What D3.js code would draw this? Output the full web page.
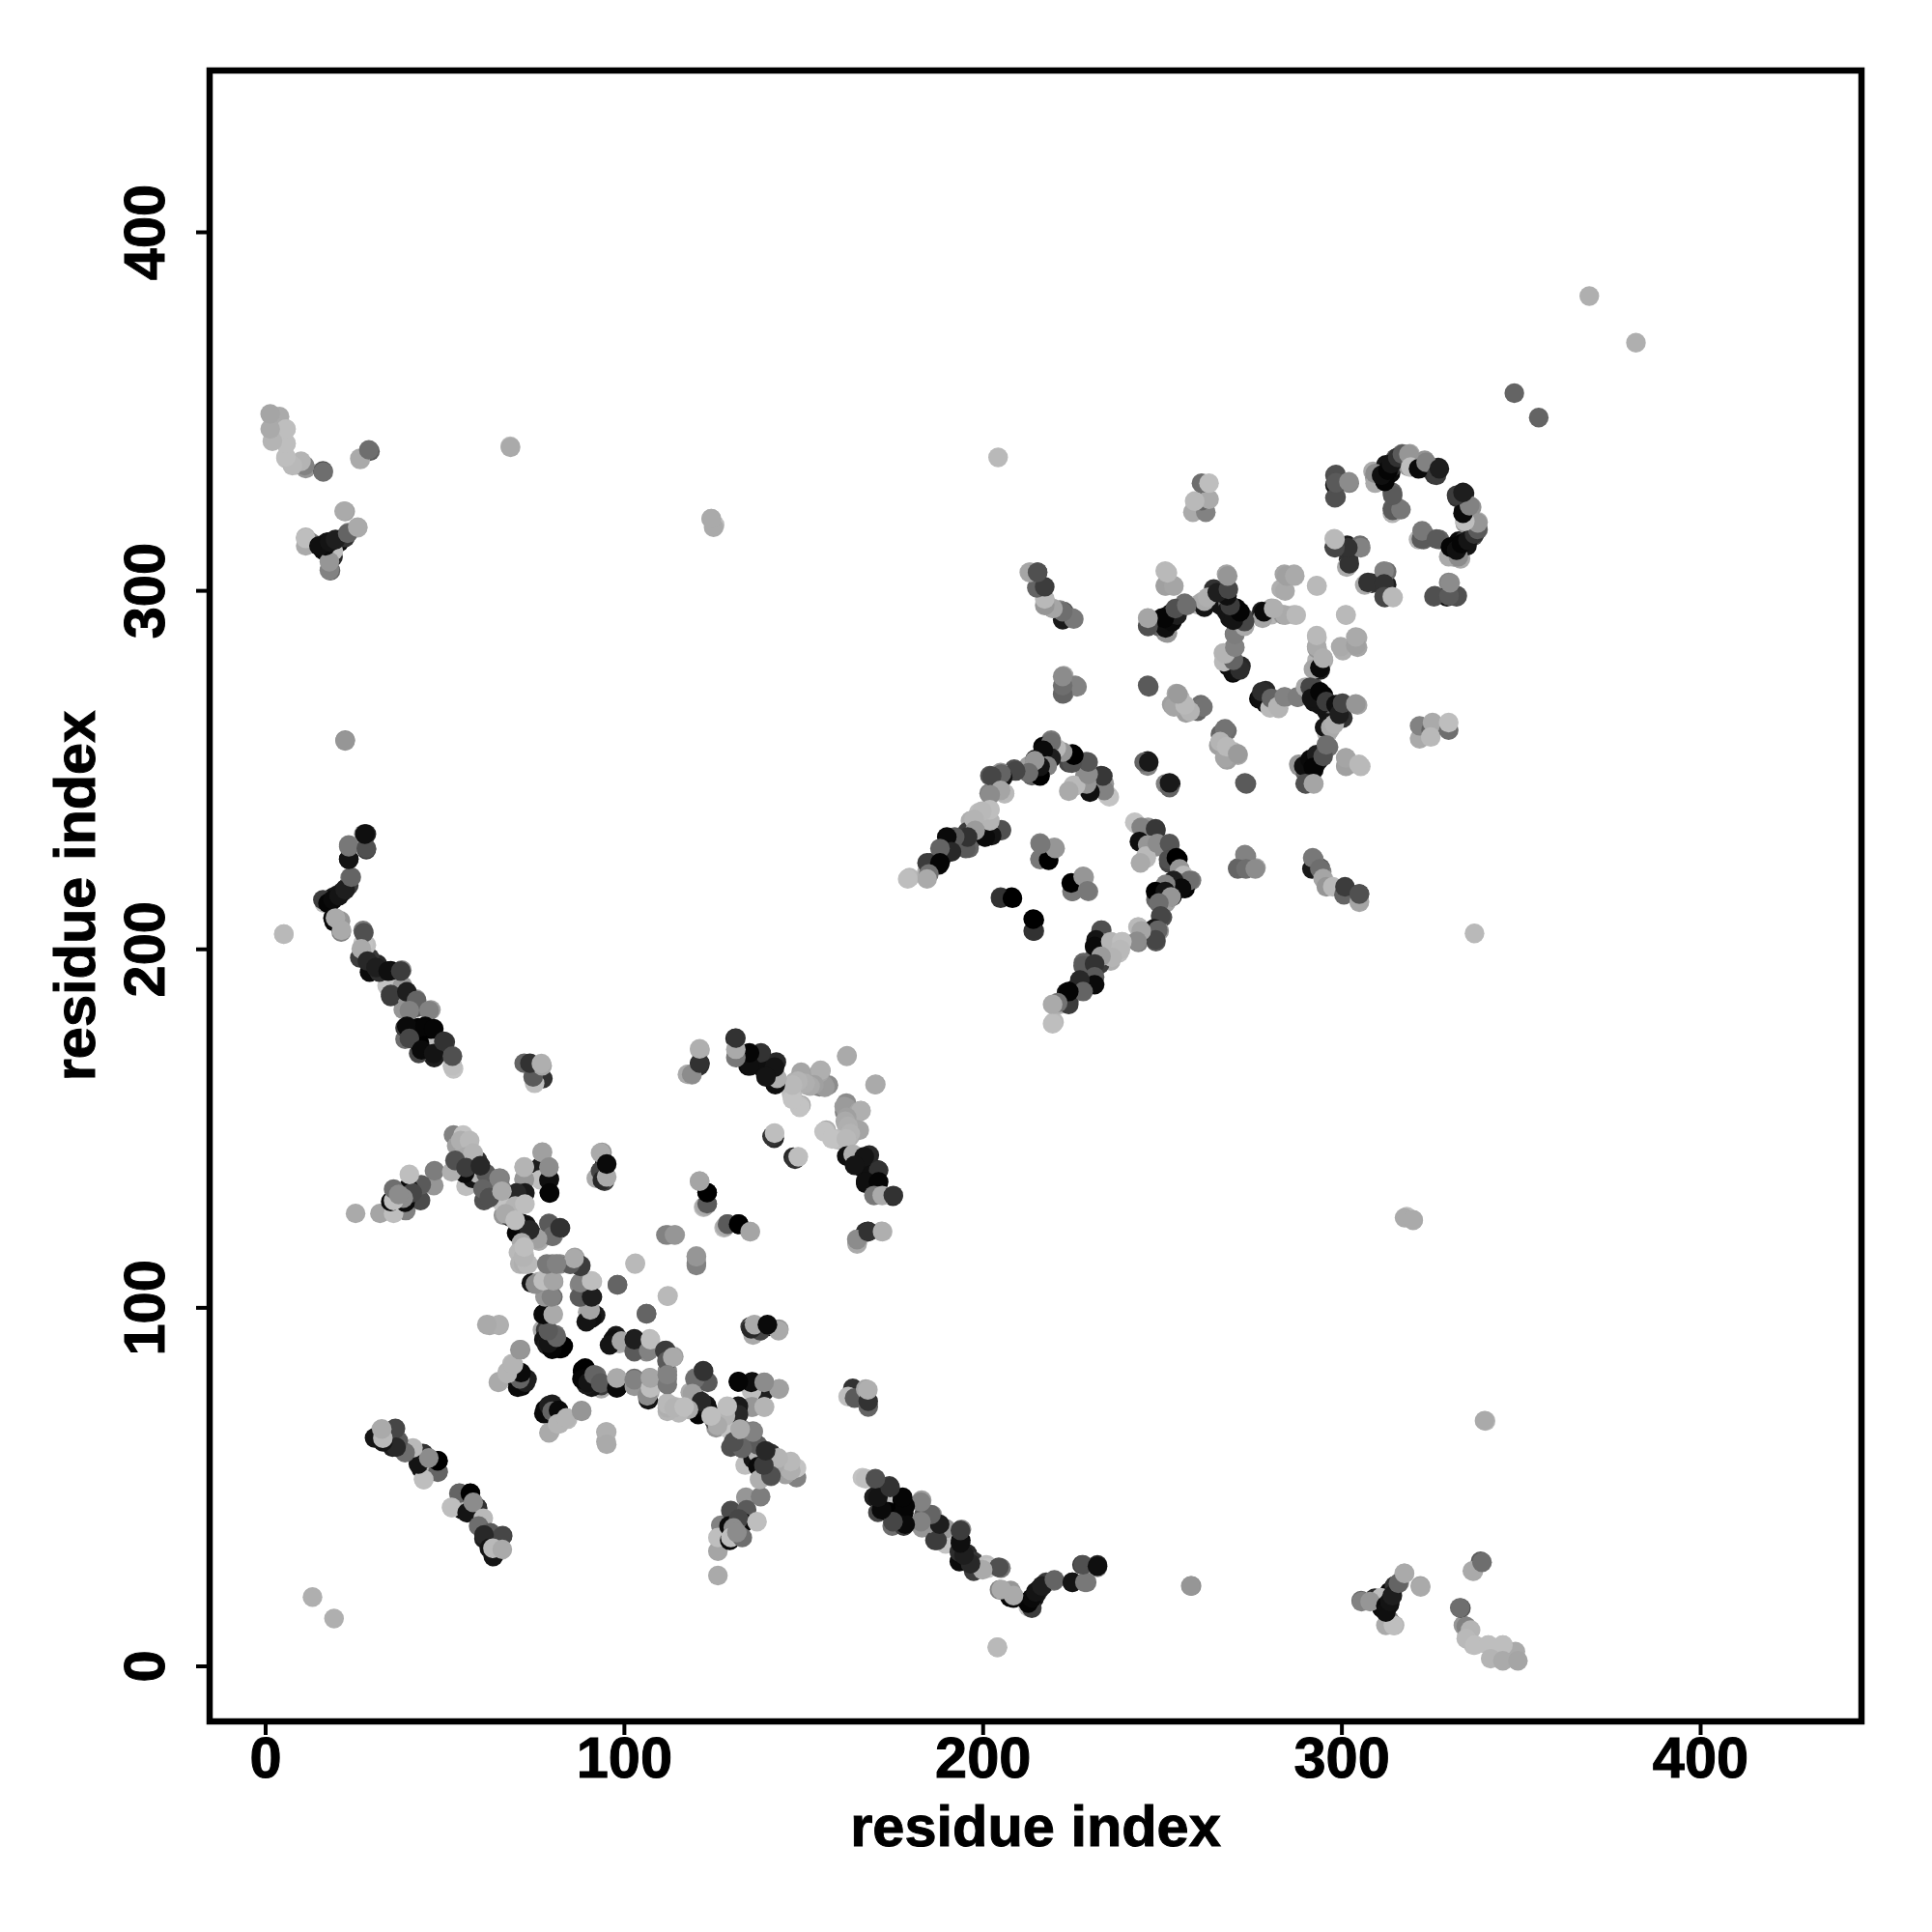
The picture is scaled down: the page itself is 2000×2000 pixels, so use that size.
<!DOCTYPE html>
<html><head><meta charset="utf-8">
<script src="https://cdnjs.cloudflare.com/ajax/libs/d3/7.8.5/d3.min.js"></script>
<style>html,body{margin:0;background:#fff}svg{display:block}</style></head>
<body><script>
// contacts are [residue a, residue b, grey level]; the map is symmetric, so each is drawn at (a,b) and (b,a)
const axisTicks = [0,100,200,300,400];
const axisTitle = "residue index";
const lonePairs = [[13.2,19.2,175],[369.1,382.1,175],[348.2,355,100],[68.3,340.2,190],[124.3,320,175],[125.3,318.2,190],[204.3,337.1,185],[317.6,125,170],[320,124.4,170],[339.9,68.4,170],[258.2,22.3,130],[5.2,204.1,190],[22.3,258,150],[204.1,5.2,185]];
const sheetA = [[32.3,65.9,176],[32.3,63.2,185],[30.5,63.6,20],[36.3,66.2,70],[36.7,62.7,90],[35.5,61,30],[38.5,60.5,10],[40.8,60.5,185],[44.2,59.1,50],[44.4,56.9,100],[43.5,55,20],[48.2,54.2,90],[46.5,57,190],[48.2,57.2,0],[44.2,52,190],[54,48.1,100],[57.2,48.1,0],[59.2,44,50],[52,44.2,190],[56.3,42.7,20],[58,45.6,140],[60.8,41.2,185],[59.5,39,110],[62.8,37.1,90],[66.1,36.2,70],[61,36.5,40],[62.5,32.8,20],[63.5,32.8,185],[66.1,32.5,170]];
const hairpinB = [[126.2,25.2,170],[126.2,32,165],[127,39.2,130],[126.2,35.8,190],[129.8,43.3,75],[134,47,150],[138.1,47.2,125],[134.2,43.5,90],[129.3,39,10],[133.3,39.9,10],[132,41,70],[137.1,40.2,190],[130.5,38.5,140],[129.5,35,10],[129.8,35.8,190],[133,35.8,110],[131.5,37.2,140]];
const bandC = [[122.1,82.3,50],[119.9,80.3,130],[123,79.4,80],[132,79.2,0],[135.8,79.2,5],[139.2,79,130],[139.2,76.7,30],[143.2,77.2,165],[135.6,76.7,190],[132,70.4,30],[132,72.2,25],[135.9,72.2,150],[139.2,72.2,190],[118.5,76.3,170],[119,72.7,0],[120.3,74.5,60],[123,72.7,20],[121.2,71.3,100],[115.8,71.8,190],[114.5,72.2,190],[123.9,70,180],[125.7,66.4,150],[125.3,68.2,60],[128,70,190],[127,68,175],[129.3,66,195],[132.9,66,125],[136,65.5,125],[129.8,61,80],[133.3,61.4,120],[136.9,61.4,110],[133.8,56,190],[136,57.8,20],[141,59.2,50],[137.4,59.2,180],[137.4,55.6,10],[141,55.2,15],[137.8,52,175],[141,52.9,130],[141.9,56,175],[148.1,52.5,130],[145,53.4,160],[144.6,55.6,170],[148.1,55.2,195]];
const sheetD = [[166.5,52.5,195],[170,52,100],[169.7,47.1,30],[170.8,42.8,70],[174,50.2,60],[174.6,46,190],[173.7,43,0],[174.8,39,110],[178,39,60],[177.6,46.2,0],[178,42.6,5],[183,46.2,160],[183.1,38.5,150],[183.6,42.1,90],[186,42.1,160],[186.7,35,60],[186.7,39.4,150],[189.7,34,195],[189.7,38.3,155],[194.1,38.1,140],[193.5,29.1,10],[193.9,35,5],[193.5,31.8,45],[195.7,31.3,40],[197.5,26.4,60],[197.5,29.1,55],[201.1,28.2,190],[201.5,27.3,195],[205.1,27.3,120],[204.7,21.2,130],[207.6,19.2,5],[207.8,21,150],[212.7,16.5,190],[213.2,18.3,10],[213.7,17.9,15],[214.3,18.8,20],[215,20.1,25],[215.9,21.5,30],[216.8,22.4,40],[217.7,23.3,60],[219.9,23.7,120],[225,23.3,25],[229,23.3,120],[227.7,28.2,50],[232,27.5,140],[232,28.2,40]];
const patchE = [[163.8,77.4,50],[162.5,75.1,190],[164.3,74.7,90],[167.4,77.2,165],[168.1,72.2,100],[168.1,73.8,50],[168,77,175]];
const patchF = [[135.2,167.4,20],[131,175,30],[131.4,171.8,50],[134.6,170.8,10],[134.6,167.4,10],[138.3,170.8,20],[139,166.3,15],[142.5,168.4,40],[142.5,162.9,30],[141.5,164.5,170],[117.7,165,175],[119,164.9,150],[121,167.4,50],[121.2,171.8,175],[121.2,168,40],[141.9,147.2,40],[141.9,148.5,170],[147.7,141.3,50],[148.6,142,190],[170.2,162.2,165],[162.1,170,170]];
const patchG = [[147.6,162.9,175],[149.4,165.6,165],[147,158.8,180],[151,162,180],[154.5,165.6,160],[154.5,161.5,130],[149.4,156.4,170],[149.1,156.2,170],[147,160,190],[155.8,162,130],[154.9,166,160],[157,162,140],[162.1,155.7,155],[161.4,156,155],[165.5,154.6,165],[166.1,154.8,175],[162.1,153,160],[161.7,151.9,170],[162.5,150.5,175],[163.1,148.5,180],[156.2,149.1,190],[155.8,149,195],[159.7,146.7,190],[158,147,195],[162,147,185]];
const strandH = [[162.1,142.2,15],[163.9,142.7,175],[167,142,20],[164.3,139.6,20],[171,138.2,50],[167.5,135,15],[171,135,5],[169.7,131.2,120],[172,131.2,170],[175.1,131.2,50],[165,118,170],[165,118.9,140],[168.1,121.1,50],[172.1,121.1,175]];
const patchI = [[121.1,135.2,180],[122.2,127.9,190],[123.2,128.8,80],[123.2,132,0],[128.2,122.5,170],[128.9,123.2,90],[132,123.2,0],[135.2,121.1,165],[112.3,120.2,130],[114.3,120.2,160],[120.2,111.7,130],[120.2,114.1,150],[103.1,112.1,185],[98.2,106.3,90],[112.3,103.2,185],[106.3,98.2,100],[135.2,94.6,60],[136.1,92.8,170],[136.1,95,180],[138,93.5,100],[139.7,94.6,20],[143.2,93.9,150]];
const sheetJ = [[79.1,123.4,90],[80,119.8,110],[82.2,122.2,50],[75.9,119.1,160],[70.1,120.7,5],[71.5,123.4,15],[73.7,121.6,40],[71.5,118,170],[77.3,143.3,160],[72.2,135.5,150],[72.2,139.1,180],[79.1,135.5,15],[79.3,131.9,5],[79.1,139.1,140],[72.4,131.9,25],[70.1,131.9,40],[92.3,136,170],[93.5,143.1,170],[93.5,138,70],[94,135.5,40],[95.2,136.4,170],[95.2,140,10],[61.6,137.3,90],[65.2,136,130],[60.7,133,100],[62.5,130.6,80],[66,132.4,170],[69.7,128.3,180],[67,126.1,170],[72.4,128.8,190],[69.7,124.3,190],[54.5,146.5,175],[57,146.5,185],[56,142,170],[58,143,180],[53,141,80],[56,139,60],[60,139.5,40]];
const sheetK = [[70.6,115.3,185],[71,112.1,180],[72.4,113.5,185],[73.3,112.1,185],[80,112.1,140],[82.2,112.1,140],[86.3,113.9,160],[85.4,112.1,175],[88,111.7,70],[74.2,106.8,20],[76.4,107.2,170],[78,107,190],[80.4,107.2,150],[78.2,103.2,170],[80.2,102.9,110],[87.6,106.3,140],[91.2,107.2,185],[87.6,102.9,100],[91.2,102.9,15],[90.3,96.9,10],[89.9,98.7,170],[92.1,97.8,25],[77.7,98.2,10],[80.2,98.2,170],[77.3,93.7,170],[78.2,93.7,60],[77.7,91,20],[78.5,89.5,30],[80.9,92.4,110],[80,88.3,0],[82,88.5,0],[83.1,89.2,0],[62.5,95,170],[65.2,95,170],[71.2,88.2,140]];
const sheetL = [[68.8,84.3,185],[65.2,79.3,170],[67.5,82,180],[70.6,82,40],[70,80,15],[71.5,78,5],[72.4,79.8,25],[73,80,30],[77.7,70.4,10],[79.1,72.6,30],[80,71,100],[81.8,71.3,10],[79.1,65,170],[81.5,67.5,180],[84,69.2,180],[88.2,71,150],[95.2,65.2,175],[95.2,61.8,170]];
const sheetM = [[97,91,15],[96,89.5,20],[99.3,90.6,165],[102.9,87.9,90],[102.9,91,30],[106.9,87.9,130],[107.4,91,190],[111.4,87.9,60],[112,85,90],[113.6,86.1,170],[88.5,82.5,0],[88.5,80,5],[90,79,20],[91.7,81.2,100],[93.5,78.9,90],[98,77.5,10],[98,80.3,170],[102.9,78,150],[102.9,79.8,130],[106.5,75.3,140],[107.4,77.5,190],[107.4,80.3,165],[112.1,78.5,120],[112.1,81.2,130],[112.1,72,175],[112.1,73,185],[114,72,180],[116.8,72.2,190]];
const arcN = [[27.5,204.5,80],[26.8,200,170],[28.5,196.6,40],[30.9,194.8,30],[34.3,193.8,15],[37.8,193.8,60],[35,187.3,60],[39.5,188,30],[42.2,185.6,100],[40.2,182.8,130],[45.7,182.8,130],[39.5,178.4,10],[44.6,178.4,5],[47,177.7,5],[40.2,175,70],[43.6,171.8,10],[47,170.8,20],[49.8,174.2,50],[52.2,167.4,190],[52.2,170.1,80]];
const arcO = [[16.1,213.7,60],[17.5,212.7,5],[18.9,213.7,10],[20.6,214.8,20],[22.3,216.5,30],[24,220,100],[23.3,225,20],[23.3,228.5,120],[28.2,228,80],[27.8,232,15],[18.9,208.6,10],[19.6,208.6,170],[21.3,205.2,170]];
const cornerP = [[1.7,345,165],[1.7,348.8,170],[4,348.5,170],[5.8,345,180],[5.8,340.9,185],[5.8,336.8,190],[8.6,335,190],[11.3,334,150],[16.1,333.3,80],[26.4,336.8,170],[29.2,338.8,90],[11.3,314.8,175],[12.7,313.4,130],[18.2,305.5,100],[18.9,309.3,40],[16.1,311.3,10],[17.2,313.4,20],[20.6,313.4,10],[19,311,190],[22.3,314.8,50],[22.3,322,160],[23.3,316.2,170],[25.8,317.5,180]];
const cornerQ = [[305.6,17.9,130],[308,17.9,150],[312.4,11.3,170],[314.5,11.3,190],[312.4,16.8,10],[312.4,15,15],[313.5,18,20],[314.2,19.6,30],[315.9,23,100],[317.6,25.8,170],[322.1,22,170],[333,16.2,110],[334.8,11,130],[336,10,180],[334.8,7.6,185],[337.2,5.8,190],[341,5.8,190],[345,5.8,190],[341.6,2,180],[345,1.4,170],[349.2,1.4,165],[336.5,26.5,170],[339.2,28.9,110]];
const hubR = [[250.9,305.4,185],[250.9,301.3,170],[253.2,301.3,180],[268,304.5,165],[246,290.1,70],[246,292.3,170],[250.9,288.3,150],[249,290,100],[250.9,291,10],[250,292.3,15],[251.4,292.8,15],[252.7,293.7,20],[253.2,292.8,15],[253.6,294.1,130],[256.3,296.4,110],[260,296,175],[261.2,296.8,170],[264.4,300.4,50],[265.3,298.6,40],[268,300.4,80],[266.2,295.9,20],[268.4,296.4,100],[268,294.1,20],[270.7,295,5],[268.9,292.3,20],[272.9,292.3,70],[270.2,287.8,110],[267.1,282.5,180],[268,281,150],[268.4,278.9,15],[269.8,277,10],[270.2,284.3,130],[272,278.9,40]];
const hubS = [[277.8,294.1,30],[280.5,295,170],[279,293,160],[280.5,293.2,180],[283.7,293.2,150],[286.8,293.2,185],[283.2,300.4,175],[284.1,304.5,165],[286.8,304.5,170],[293.1,301.3,185],[298,312.1,60],[298,314.4,185],[301.6,312.6,30],[305.2,312.6,110],[302,307,180],[302,308.5,50],[306.5,301.5,170],[307.4,302.2,50],[311.9,305.4,130],[311.9,301.8,50],[311.9,298.2,70],[314.2,298.2,185],[325.8,298.2,85],[329.9,302.2,130],[329.4,298.2,20],[332.1,298.2,75],[301.2,293.2,185]];
const hubT = [[293.1,284.3,170],[293.1,287.4,185],[292.2,278,165],[294,278.4,10],[294.9,281.1,175],[299.8,284.3,170],[304,284.7,160],[304,287,170],[246,273.5,90],[254,271.2,170],[252.7,268.1,160],[256.7,265.8,160],[255,269.9,185],[256.7,267.6,185],[259.9,266.3,100],[260.8,268.1,110]];
const hubU = [[277.4,269.9,15],[277.8,271.7,45],[280.1,267.2,185],[280.5,269.9,100],[282.3,267.6,180],[284.1,270.3,130],[287.7,270.3,125],[290,273,170],[291.3,273,70],[291.7,269.9,20],[294,271.7,5],[295.8,269,60],[298.5,268.1,15],[295.3,261.8,20],[297,261.8,170],[298,262.7,175],[299.4,265.4,30],[300.3,268.5,70],[304,268.3,150],[288.1,251.5,150],[289.5,251,15],[291.3,252.8,10],[293.1,254.2,30],[292.2,250.6,5],[294.9,253.7,80],[295.8,256.9,110],[289.9,246.1,80],[292.2,246.1,165],[301.2,251,160],[301.2,253.3,165],[304.9,251.5,185]];
const patchV = [[321.8,258.6,170],[321.8,262.2,130],[325,261,100],[325.4,263.1,170],[324.9,259.1,185],[329.9,261,110],[329.9,263.1,190],[267.5,261.4,115],[266.2,257.8,180],[267.5,253.3,165],[268,256.4,185],[271.1,254.4,155],[222.6,294.1,80],[225,292.3,125],[222.6,276.2,170],[222.6,271.2,110],[225.8,273.5,130],[246,251,130],[246,252.4,25],[252.1,245,100],[252.1,246.3,25],[273.1,246.3,90],[213,305,170],[215.3,305,50],[216.3,301.4,80],[218,296,185],[221.5,294.5,130]];
const arcW = [[225,254.4,0],[224,251.9,70],[228.9,252.2,100],[228.5,248.3,140],[233,248.3,60],[225.3,245.6,185],[229.4,245.2,30],[233.9,246.1,150],[234.8,242.9,190],[219.1,258.2,120],[216.8,256.4,5],[219.5,256.4,170],[217.7,254.6,25],[221.8,255,130],[212.8,251,160],[214.6,252.8,10],[216.4,251,15],[214.6,249.2,5],[213.7,248.3,100],[208.8,250.1,80],[202,248.3,90],[205,249.2,150],[205.6,248.3,20],[201.8,243.4,130],[206.1,243.4,185],[202,238.9,190],[198.9,238,190],[196.6,235.7,175],[202,235.7,185],[198,232.1,170],[195.7,232.1,140],[200.7,231.3,10],[201.6,232.1,185],[205.2,233.2,90],[195.3,229.4,30],[196.2,228.1,100],[179.6,219.9,185],[184.4,221.3,175],[185.4,224,70],[187.8,223.4,15],[188.8,225.8,10],[190.6,228.5,40],[192.3,230.9,60],[195.7,232.6,60],[197.4,230.9,100]];
const arcX = [[242.4,235.3,195],[244.2,233.9,130],[248.2,233.5,55],[243.7,229.9,15],[246,229,150],[245.5,225.9,185],[244,224,170],[248.7,229.4,140],[252.1,229.4,85],[251.8,224.9,80],[254,225.4,0],[254.9,222.3,150],[256,220.5,185],[257.6,219.1,110],[253.2,219.1,30],[255.4,216.9,10],[251,218,130],[248.2,216,0],[250.9,216,20],[252.5,214.5,150],[249.1,212.8,110],[249.6,209.2,70],[247.8,205.6,20],[248.8,205.2,100],[248.2,202.5,70],[243.3,206.1,185],[244.2,205,165],[243,202.1,140],[233,205.2,80],[233.4,201.6,160],[231.6,202.5,20],[231.2,200.7,10],[235.7,202,180],[238.8,202,190],[238.4,199.8,185],[236.1,197.6,180],[233,197.9,155],[228,195.3,90],[231.2,195.8,50],[231.2,192.2,90],[231.2,190,10],[227.1,191.3,40],[228,188.1,100],[224,184.5,60],[224,188.1,5],[220.9,185,115],[219.5,184.5,170],[219.5,179.1,190]];
const patchY = [[216,225.1,120],[218,225.1,0],[216,229.5,130],[217.7,228.1,185],[220,228.3,155],[224.9,216,120],[224.7,218.4,0],[228,220.2,150],[229.2,216.2,120],[205,214.4,60],[208.1,214.4,0],[214.1,205,50],[214.1,208.3,0],[273.1,226.3,130],[271.1,222.3,100],[273.4,222.3,110],[276,222.3,140],[291.8,222.3,25],[292,225.4,120],[294,222.3,110],[294.9,219.6,165],[295.8,217.3,150],[297.6,217.3,185],[300.7,215.1,100],[301,217.3,60],[305,213.3,165],[305,215.3,80]];
const ringZ = [[298.5,326,80],[298.5,332.3,80],[298.5,330,90],[302.1,330.3,140],[308.8,333.2,170],[309.3,331.4,150],[311,332.7,10],[312.4,335,20],[313.7,332.7,10],[314.2,334.5,50],[315.1,336.8,90],[316.9,338.1,150],[319.1,338.1,170],[318.7,334.5,150],[319.6,336.3,180],[322.3,334.1,20],[323.2,336.3,145],[325.9,332.3,50],[327,334.3,30],[314.2,327.3,100],[314.2,321.5,180],[314.2,322.9,100],[316,322.9,125],[322.3,314.3,90],[322.5,316.6,120],[326.5,314.3,90],[329.9,309.4,170],[332.6,309.4,140],[330.4,312.1,5],[332.1,311.2,15],[333.5,313,5],[335.3,313.9,20],[337.1,315.7,50],[338,317,90],[338,318.8,150],[334.4,319.3,190],[333.9,321.5,10],[335.7,323.6,130],[332.1,326.5,60],[333.9,327.3,30]];

const groups = [lonePairs,sheetA,hairpinB,bandC,sheetD,patchE,patchF,patchG,strandH,patchI,sheetJ,sheetK,sheetL,sheetM,arcN,arcO,cornerP,cornerQ,hubR,hubS,hubT,hubU,patchV,arcW,arcX,patchY,ringZ];

const W=2000,H=2000;
const frame={l:217,r:1927,t:73,b:1782};
const x=d3.scaleLinear().domain([0,400]).range([274.5,1760]);
const y=d3.scaleLinear().domain([0,400]).range([1724.5,240]);
const grey=d3.scaleLinear().domain([0,255]).range(["#000000","#ffffff"]);
const font='"Liberation Sans",Arial,sans-serif';

const svg=d3.select("body").append("svg").attr("width",W).attr("height",H).style("background","#fff");
const marks=svg.append("g");
groups.forEach(g=>{
  const both=g.flatMap(([a,b,s])=>[{a,b,s},{a:b,b:a,s}]);
  marks.selectAll(null).data(both).join("circle")
    .attr("cx",d=>x(d.a)).attr("cy",d=>y(d.b)).attr("r",10.2).attr("fill",d=>grey(d.s));
});

const xAxis=svg.append("g").attr("transform",`translate(0,${frame.b})`)
  .call(d3.axisBottom(x).tickValues(axisTicks).tickSize(14).tickPadding(0).tickFormat(d3.format("d")));
const yAxis=svg.append("g").attr("transform",`translate(${frame.l},0)`)
  .call(d3.axisLeft(y).tickValues(axisTicks).tickSize(14).tickPadding(0).tickFormat(d3.format("d")));
[xAxis,yAxis].forEach(a=>{
  a.select(".domain").remove();
  a.selectAll(".tick line").attr("stroke","#000").attr("stroke-width",4);
  a.selectAll(".tick text").attr("fill","#000").attr("stroke","#000").attr("stroke-width",1).attr("font-family",font).attr("font-weight",700).attr("font-size",59.5);
});
xAxis.selectAll(".tick text").attr("y",58).attr("dy",0);
yAxis.selectAll(".tick text").attr("x",0).attr("dy",0).attr("text-anchor","middle")
  .attr("transform","translate(-47,0) rotate(-90)");

svg.append("rect").attr("x",frame.l).attr("y",frame.t).attr("width",frame.r-frame.l).attr("height",frame.b-frame.t)
  .attr("fill","none").attr("stroke","#000").attr("stroke-width",6.5);

svg.append("text").text(axisTitle).attr("x",(frame.l+frame.r)/2).attr("y",1911).attr("text-anchor","middle")
  .attr("font-family",font).attr("font-weight",700).attr("font-size",59.5).attr("fill","#000").attr("stroke","#000").attr("stroke-width",1);
svg.append("text").text(axisTitle).attr("text-anchor","middle")
  .attr("transform",`translate(98,${(frame.t+frame.b)/2}) rotate(-90)`)
  .attr("font-family",font).attr("font-weight",700).attr("font-size",59.5).attr("fill","#000").attr("stroke","#000").attr("stroke-width",1);
</script></body></html>
